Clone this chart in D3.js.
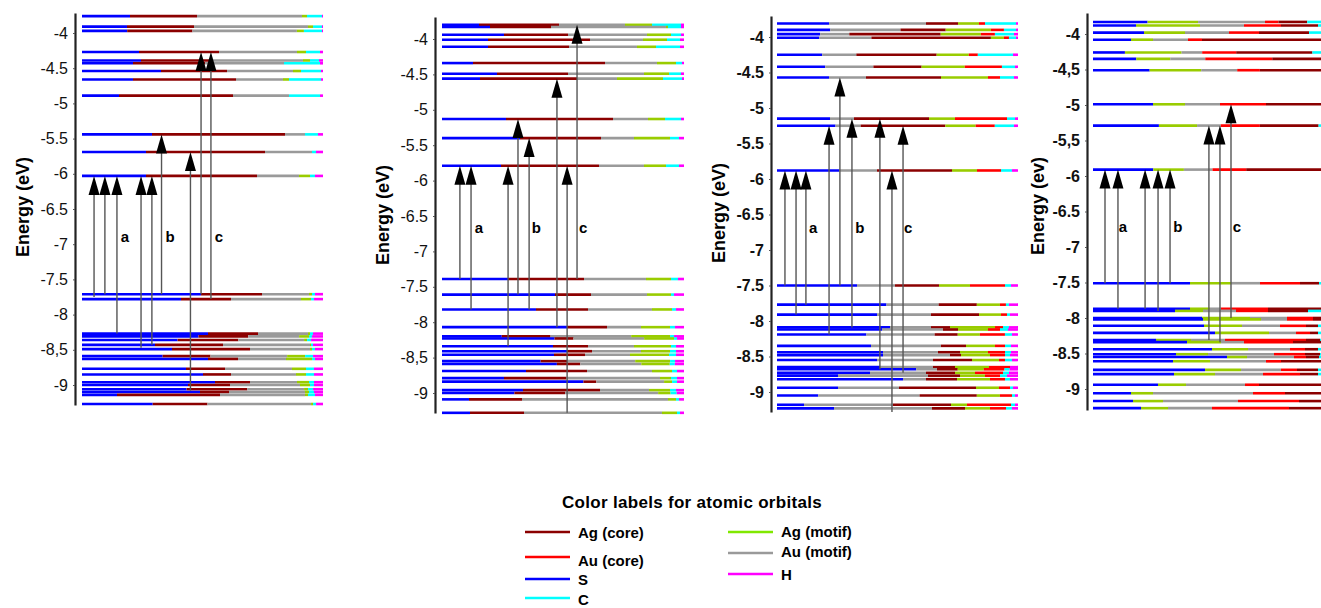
<!DOCTYPE html>
<html>
<head>
<meta charset="utf-8">
<script src="https://cdn.jsdelivr.net/npm/d3@7"></script>
<style>
  body { margin: 0; background: #fff; }
  svg { display: block; font-family: Arial, "Liberation Sans", sans-serif; }
</style>
</head>
<body>
<div id="chart"></div>
<script>
// orbital keys and legend names
const orbitals = ["Agc", "Auc", "S", "C", "Agm", "Aum", "H"];
const orbitalNames = ["Ag (core)", "Au (core)", "S", "C", "Ag (motif)", "Au (motif)", "H"];

const energyTicks = [-4, -4.5, -5, -5.5, -6, -6.5, -7, -7.5, -8, -8.5, -9];
const tickLabels1 = ["-4", "-4.5", "-5", "-5.5", "-6", "-6.5", "-7", "-7.5", "-8", "-8,5", "-9"];
const tickLabels2 = ["-4", "-4.5", "-5", "-5.5", "-6", "-6.5", "-7", "-7.5", "-8", "-8,5", "-9"];
const tickLabels3 = ["-4", "-4.5", "-5", "-5.5", "-6", "-6.5", "-7", "-7.5", "-8", "-8.5", "-9"];
const tickLabels4 = ["-4", "-4,5", "-5", "-5,5", "-6", "-6.5", "-7", "-7.5", "-8", "-8.5", "-9"];
const transitions = ["a", "b", "c"];

// order in which the orbital contributions are stacked along each level
const order1 = ["S", "Agc", "Aum", "Agm", "C", "H"];
const order2 = ["S", "Agc", "Aum", "Agm", "C", "H"];
const order3 = ["S", "Aum", "Agc", "Agm", "Auc", "C", "H"];
const order4 = ["S", "Agm", "Aum", "Auc", "Agc", "C"];

// [energy (eV), relative orbital weights in panel order]
const levels1 = [
  [-3.76, [48, 67, 105, 5, 15, 1]],
  [-3.91, [45, 67, 114, 5, 9, 1]],
  [-3.97, [45, 65, 104, 7, 18, 1]],
  [-4.27, [57, 80, 78, 9, 14, 3]],
  [-4.39, [59, 69, 93, 7, 9, 4]],
  [-4.43, [51, 72, 79, 0, 36, 3]],
  [-4.54, [79, 66, 66, 8, 20, 2]],
  [-4.66, [51, 103, 47, 6, 32, 2]],
  [-4.89, [37, 114, 56, 0, 31, 3]],
  [-5.44, [70, 133, 20, 0, 13, 5]],
  [-5.69, [64, 119, 47, 0, 4, 7]],
  [-6.03, [64, 111, 42, 11, 5, 8]],
  [-7.71, [119, 61, 47, 3, 3, 8]],
  [-7.78, [99, 50, 70, 10, 3, 9]],
  [-8.27, [126, 50, 50, 2, 3, 10]],
  [-8.31, [117, 50, 51, 10, 3, 11]],
  [-8.36, [96, 61, 66, 3, 4, 12]],
  [-8.43, [73, 68, 87, 1, 2, 10]],
  [-8.49, [90, 78, 60, 2, 3, 8]],
  [-8.59, [81, 48, 77, 18, 8, 10]],
  [-8.63, [126, 30, 48, 26, 3, 8]],
  [-8.77, [104, 39, 67, 14, 8, 9]],
  [-8.85, [121, 28, 65, 10, 8, 9]],
  [-8.96, [133, 35, 47, 12, 5, 9]],
  [-9.00, [106, 42, 70, 10, 4, 9]],
  [-9.06, [105, 61, 57, 4, 5, 10]],
  [-9.10, [118, 29, 76, 4, 5, 9]],
  [-9.14, [35, 103, 85, 3, 7, 8]],
  [-9.27, [71, 55, 104, 2, 3, 7]]
];

const levels2 = [
  [-3.80, [37, 80, 66, 27, 29, 3]],
  [-3.83, [48, 61, 115, 2, 13, 3]],
  [-3.94, [62, 64, 79, 24, 10, 3]],
  [-4.01, [46, 102, 53, 24, 13, 4]],
  [-4.11, [46, 81, 68, 19, 24, 4]],
  [-4.34, [31, 132, 52, 19, 6, 2]],
  [-4.49, [55, 71, 76, 25, 12, 3]],
  [-4.56, [38, 97, 40, 46, 19, 2]],
  [-5.13, [64, 107, 35, 17, 16, 3]],
  [-5.40, [78, 81, 33, 36, 9, 5]],
  [-5.79, [59, 98, 45, 22, 13, 5]],
  [-7.39, [66, 76, 62, 25, 7, 6]],
  [-7.61, [113, 36, 56, 24, 3, 10]],
  [-7.82, [94, 52, 64, 20, 4, 8]],
  [-8.07, [125, 40, 34, 29, 5, 9]],
  [-8.20, [60, 49, 81, 39, 4, 10]],
  [-8.23, [113, 19, 71, 30, 3, 7]],
  [-8.34, [111, 35, 46, 37, 5, 8]],
  [-8.41, [125, 25, 49, 29, 6, 8]],
  [-8.46, [112, 31, 45, 39, 7, 8]],
  [-8.55, [99, 27, 68, 35, 5, 9]],
  [-8.59, [113, 23, 60, 28, 5, 9]],
  [-8.69, [84, 61, 65, 20, 5, 7]],
  [-8.79, [62, 62, 94, 11, 6, 7]],
  [-8.84, [142, 13, 68, 8, 5, 7]],
  [-8.96, [81, 77, 49, 21, 6, 8]],
  [-9.00, [70, 49, 90, 12, 6, 7]],
  [-9.09, [27, 53, 146, 8, 3, 5]],
  [-9.28, [28, 54, 138, 15, 3, 4]]
];

const levels3 = [
  [-3.81, [52, 97, 32, 21, 6, 31, 2]],
  [-3.90, [53, 70, 45, 45, 13, 12, 2]],
  [-3.96, [43, 29, 91, 40, 14, 19, 4]],
  [-4.01, [42, 52, 119, 13, 5, 7, 2]],
  [-4.25, [45, 34, 80, 32, 9, 35, 5]],
  [-4.42, [48, 48, 48, 43, 37, 13, 3]],
  [-4.57, [52, 37, 75, 47, 12, 14, 4]],
  [-5.15, [53, 24, 75, 26, 52, 8, 3]],
  [-5.25, [58, 25, 84, 30, 19, 19, 4]],
  [-5.88, [62, 38, 75, 25, 24, 11, 6]],
  [-7.50, [80, 38, 44, 31, 35, 6, 7]],
  [-7.77, [109, 52, 38, 23, 6, 3, 9]],
  [-7.91, [100, 54, 48, 22, 6, 3, 8]],
  [-8.09, [113, 41, 19, 45, 8, 6, 9]],
  [-8.12, [105, 61, 15, 30, 12, 8, 10]],
  [-8.19, [89, 68, 23, 22, 25, 7, 6]],
  [-8.35, [94, 70, 25, 29, 10, 6, 7]],
  [-8.44, [106, 55, 22, 28, 17, 6, 7]],
  [-8.48, [106, 67, 11, 29, 15, 5, 8]],
  [-8.55, [100, 56, 39, 27, 6, 7, 6]],
  [-8.65, [103, 53, 22, 34, 21, 0, 8]],
  [-8.68, [134, 20, 20, 25, 20, 5, 8]],
  [-8.73, [93, 56, 29, 20, 28, 6, 9]],
  [-8.77, [61, 90, 32, 25, 15, 7, 11]],
  [-8.82, [126, 23, 31, 33, 15, 5, 8]],
  [-8.94, [61, 61, 77, 23, 11, 3, 5]],
  [-9.05, [41, 101, 57, 23, 12, 3, 3]],
  [-9.18, [27, 89, 58, 16, 44, 4, 3]],
  [-9.23, [57, 98, 33, 25, 16, 6, 6]]
];

const levels4 = [
  [-3.83, [53, 49, 65, 13, 28, 25]],
  [-3.88, [43, 64, 44, 37, 37, 15]],
  [-3.98, [51, 41, 44, 30, 50, 24]],
  [-4.08, [38, 22, 35, 14, 131, 0]],
  [-4.26, [31, 55, 20, 33, 74, 20]],
  [-4.35, [42, 33, 34, 65, 49, 10]],
  [-4.51, [55, 50, 35, 22, 61, 10]],
  [-4.99, [60, 32, 35, 46, 67, 0]],
  [-5.29, [64, 37, 23, 38, 57, 14]],
  [-5.91, [59, 30, 28, 33, 75, 10]],
  [-7.51, [97, 41, 29, 40, 19, 14]],
  [-7.87, [97, 20, 11, 47, 53, 12]],
  [-7.90, [82, 28, 33, 32, 40, 25]],
  [-8.00, [109, 48, 37, 26, 10, 10]],
  [-8.02, [110, 58, 26, 26, 8, 12]],
  [-8.11, [111, 38, 38, 26, 12, 15]],
  [-8.21, [122, 54, 27, 14, 8, 15]],
  [-8.31, [63, 35, 34, 81, 14, 13]],
  [-8.34, [94, 34, 23, 49, 28, 12]],
  [-8.44, [119, 36, 42, 15, 13, 15]],
  [-8.51, [83, 32, 66, 31, 15, 13]],
  [-8.55, [134, 20, 47, 12, 13, 14]],
  [-8.61, [80, 37, 56, 15, 40, 12]],
  [-8.73, [112, 36, 40, 16, 21, 15]],
  [-8.79, [81, 41, 48, 37, 18, 15]],
  [-8.94, [65, 28, 59, 14, 62, 12]],
  [-9.06, [38, 22, 100, 32, 36, 12]],
  [-9.17, [40, 30, 75, 61, 22, 12]],
  [-9.27, [48, 27, 44, 77, 32, 12]]
];

// excitation arrows: [position along level (%), from energy, to energy]
const arrows1 = [
  [5, -7.75, -6.03], [9.5, -7.71, -6.03], [14.5, -8.27, -6.03],
  [24.5, -8.47, -6.03], [29, -8.43, -6.03], [33, -7.71, -5.44],
  [45, -9.08, -5.69], [49.4, -7.71, -4.27], [53.5, -7.78, -4.27]
];
const arrows2 = [
  [7.4, -7.39, -5.79], [12, -7.82, -5.79], [27.3, -8.34, -5.79],
  [31.4, -7.61, -5.13], [36, -7.82, -5.40], [47.5, -8.07, -4.56],
  [51.7, -9.28, -5.79], [55.8, -7.39, -3.80]
];
const arrows3 = [
  [3.3, -7.50, -5.88], [7.9, -7.91, -5.88], [12, -7.77, -5.88],
  [21.6, -8.19, -5.25], [26.1, -7.50, -4.57], [31.1, -8.09, -5.15],
  [42.7, -8.68, -5.15], [47.7, -9.28, -5.88], [52.3, -8.73, -5.25]
];
const arrows4 = [
  [5, -7.51, -5.91], [10.4, -7.87, -5.91], [21.7, -7.87, -5.91],
  [27.1, -7.90, -5.91], [32.1, -7.51, -5.91], [48.3, -8.31, -5.29],
  [52.9, -8.34, -5.29], [57.5, -8.00, -4.99]
];

const panels = [
  {order: order1, levels: levels1, arrows: arrows1, tickLabels: tickLabels1, title: "Energy (eV)"},
  {order: order2, levels: levels2, arrows: arrows2, tickLabels: tickLabels2, title: "Energy (eV)"},
  {order: order3, levels: levels3, arrows: arrows3, tickLabels: tickLabels3, title: "Energy (eV)"},
  {order: order4, levels: levels4, arrows: arrows4, tickLabels: tickLabels4, title: "Energy (ev)"}
];

// pixel placement of each panel
const layout = [
  {axisX: 75, x0: 82, x1: 323, y4: 33, y9: 385, top: 13, bottom: 405, titleX: 23, titleY: 207, bold: false, labelE: -6.9, labelX: [17.8, 36.5, 56.8]},
  {axisX: 435, x0: 442, x1: 684, y4: 39, y9: 393, top: 17, bottom: 413, titleX: 383, titleY: 215, bold: false, labelE: -6.66, labelX: [15.3, 39, 58.3]},
  {axisX: 771, x0: 777, x1: 1018, y4: 37, y9: 392, top: 16, bottom: 412, titleX: 719, titleY: 213, bold: true, labelE: -6.68, labelX: [15, 34.4, 54.4]},
  {axisX: 1087, x0: 1093, x1: 1333, y4: 34, y9: 389, top: 13, bottom: 410, titleX: 1038, titleY: 206, bold: true, labelE: -6.72, labelX: [12.5, 35.4, 60]}
];

const color = d3.scaleOrdinal()
  .domain(orbitals)
  .range(["#8b0000", "#ff0000", "#0000ff", "#00ffff", "#99cc00", "#9a9a9a", "#ff00ff"]);

const svg = d3.select("#chart")
  .append("svg")
    .attr("width", 1321)
    .attr("height", 608);

panels.forEach(function(p, pi) {
  const L = layout[pi];
  const g = svg.append("g");

  const y = d3.scaleLinear().domain([-4, -9]).range([L.y4, L.y9]);
  const yAxisScale = d3.scaleLinear()
    .domain([y.invert(L.top), y.invert(L.bottom)])
    .range([L.top, L.bottom]);
  const x = d3.scaleLinear().domain([0, 100]).range([L.x0, L.x1]);

  // levels, split into orbital contributions
  p.levels.forEach(function(lv) {
    const total = d3.sum(lv[1]);
    let cum = 0;
    const segs = lv[1].map(function(w, i) {
      const s = {from: cum / total * 100, to: (cum + w) / total * 100, key: p.order[i]};
      cum += w;
      return s;
    }).filter(s => s.to > s.from);
    g.selectAll(null)
      .data(segs)
      .enter().append("line")
        .attr("x1", d => x(d.from))
        .attr("x2", d => x(d.to))
        .attr("y1", y(lv[0]))
        .attr("y2", y(lv[0]))
        .attr("stroke", d => color(d.key))
        .attr("stroke-width", 2.6);
  });

  // excitation arrows
  const headH = 19, headW = 11;
  p.arrows.forEach(function(a) {
    const ax = x(a[0]), yFrom = y(a[1]), yTo = y(a[2]);
    g.append("line")
      .attr("x1", ax).attr("x2", ax)
      .attr("y1", yFrom).attr("y2", yTo + headH - 1)
      .attr("stroke", "#555")
      .attr("stroke-width", 1.4);
    g.append("path")
      .attr("d", "M" + ax + "," + yTo +
                 "L" + (ax + headW / 2) + "," + (yTo + headH) +
                 "L" + (ax - headW / 2) + "," + (yTo + headH) + "Z")
      .attr("fill", "#000");
  });

  // transition labels
  g.selectAll(null)
    .data(transitions)
    .enter().append("text")
      .attr("x", (d, i) => x(L.labelX[i]))
      .attr("y", y(L.labelE))
      .attr("dy", "0.35em")
      .attr("text-anchor", "middle")
      .style("font-size", "15px")
      .style("font-weight", "bold")
      .text(d => d);

  // y axis
  const axis = g.append("g")
    .attr("transform", "translate(" + L.axisX + ",0)")
    .call(d3.axisLeft(yAxisScale)
      .tickValues(energyTicks)
      .tickFormat((d, i) => p.tickLabels[i])
      .tickSize(2)
      .tickSizeOuter(0)
      .tickPadding(5));
  axis.select(".domain").attr("stroke", "#222").attr("stroke-width", 2.2);
  axis.selectAll(".tick line").attr("stroke", "#555");
  axis.selectAll(".tick text")
    .style("font-size", "16px")
    .style("font-family", "Arial, 'Liberation Sans', sans-serif")
    .style("font-weight", L.bold ? "bold" : "normal")
    .attr("fill", "#111");

  g.append("text")
    .attr("transform", "translate(" + L.titleX + "," + L.titleY + ") rotate(-90)")
    .attr("text-anchor", "middle")
    .attr("dy", "0.35em")
    .style("font-size", "18px")
    .style("font-weight", "bold")
    .text(p.title);
});

// legend
const legend = svg.append("g");
legend.append("text")
  .attr("x", 692)
  .attr("y", 508)
  .attr("text-anchor", "middle")
  .style("font-size", "17px")
  .style("font-weight", "bold")
  .style("letter-spacing", "0.3px")
  .text("Color labels for atomic orbitals");

const legendLeft = ["Agc", "Auc", "S", "C"];
const legendRight = ["Agm", "Aum", "H"];
const leftY = [532, 557, 579, 598];
const rightY = [532, 553, 574];
const legendItems = legendLeft.map((k, i) => ({key: k, x: 525, y: leftY[i], ty: [533, 561, 580, 600][i]}))
  .concat(legendRight.map((k, i) => ({key: k, x: 728, y: rightY[i], ty: [532, 552, 575][i]})));

legend.selectAll(null)
  .data(legendItems)
  .enter().append("line")
    .attr("x1", d => d.x)
    .attr("x2", d => d.x + 45)
    .attr("y1", d => d.y)
    .attr("y2", d => d.y)
    .attr("stroke", d => d.key === "Agm" ? "#80e800" : color(d.key))
    .attr("stroke-width", 2.5);
legend.selectAll(null)
  .data(legendItems)
  .enter().append("text")
    .attr("x", d => d.x + 53)
    .attr("y", d => d.ty)
    .attr("dy", "0.35em")
    .style("font-size", "15px")
    .style("font-weight", "bold")
    .text(d => orbitalNames[orbitals.indexOf(d.key)]);
</script>
</body>
</html>
